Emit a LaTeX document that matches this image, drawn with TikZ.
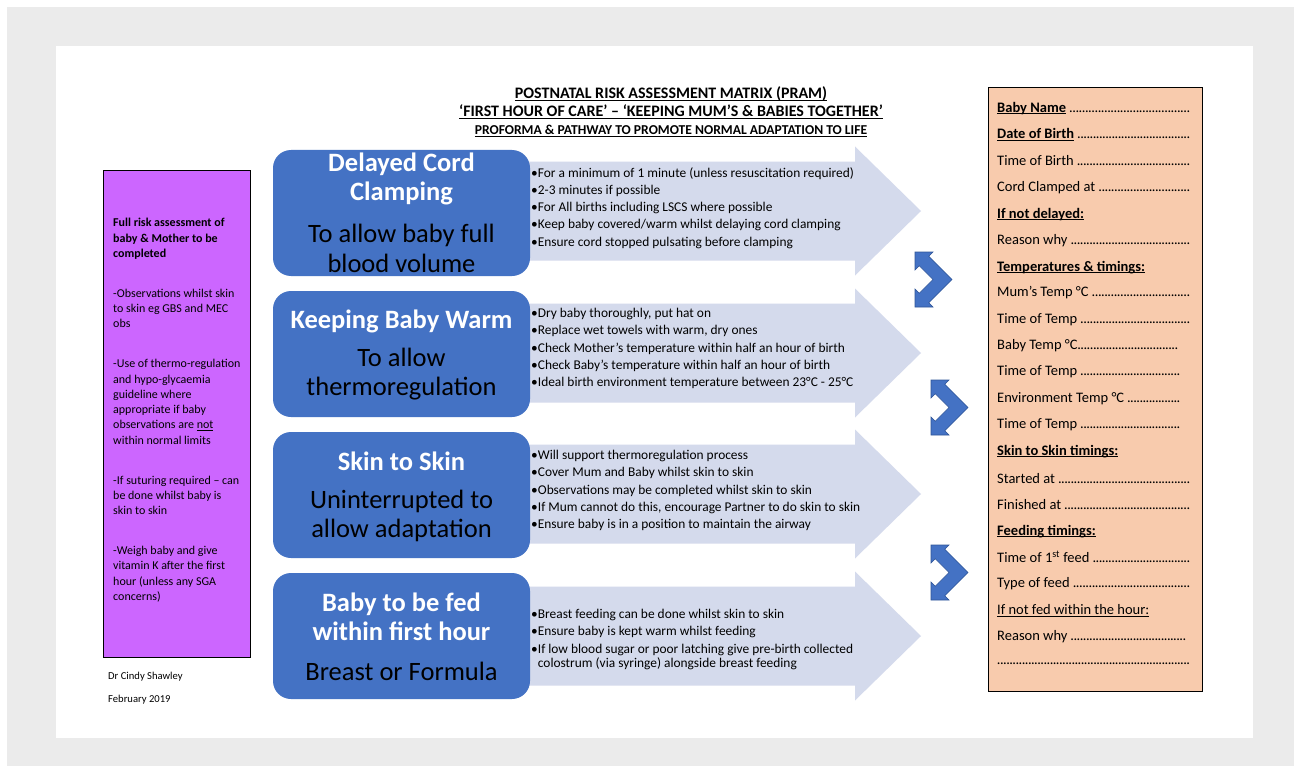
\documentclass[tikz,border=0pt]{standalone}
\usepackage{fontspec}
\setmainfont{Carlito}
\usetikzlibrary{positioning}

\definecolor{pagegrey}{RGB}{235,235,235}
\definecolor{cardblue}{RGB}{68,114,196}
\definecolor{cardedge}{RGB}{47,85,151}
\definecolor{arrowlilac}{RGB}{212,218,236}
\definecolor{riskviolet}{RGB}{204,102,255}
\definecolor{formpeach}{RGB}{248,203,173}

\newsavebox{\ulbox}
\newcommand{\uln}[1]{\sbox{\ulbox}{#1}\rlap{\rule[-0.13em]{\wd\ulbox}{0.06em}}\usebox{\ulbox}}
\newcommand{\dotrun}{\xleaders\hbox to 3.1pt{\hss.\hss}\hfill}
\newcommand{\formfield}[2][193pt]{\hbox to #1{#2\dotrun}}

\tikzset{
  card/.style={fill=cardblue, rounded corners=18pt, minimum width=257, minimum height=126,
    anchor=north west, inner sep=0pt, outer sep=0pt},
  cardhead/.style={text=white, font=\fontsize{26.5}{29}\selectfont\bfseries, align=center, inner sep=0pt},
  cardtext/.style={text=black, font=\fontsize{26.5}{29.5}\selectfont, align=center, inner sep=0pt},
  bullets/.style={anchor=north west, inner sep=0pt, align=left, font=\fontsize{13.4}{17.25}\selectfont},
  flowarrow/.style={fill=arrowlilac},
  turnarrow/.style={fill=cardblue, draw=cardedge, line width=0.6pt, line join=miter},
  sidebox/.style={draw=black, line width=0.8pt, anchor=north west, inner sep=0pt, outer sep=0pt},
  formrow/.style={anchor=west, inner sep=0pt, yshift=-1.5pt, font=\fontsize{14.5}{16}\selectfont},
  titleline/.style={inner sep=0pt, font=\fontsize{16}{18}\selectfont\bfseries},
}

\begin{document}
\begin{tikzpicture}[x=1pt,y=-1pt]
\useasboundingbox (0,0) rectangle (1301,773);
% page
\fill[white] (0,0) rectangle (1301,773);
\fill[pagegrey] (7,7) rectangle (1294,766);
\fill[white] (56,46) rectangle (1253,738);

% heading
\node[titleline] (title1) at (671,94) {\uln{POSTNATAL RISK ASSESSMENT MATRIX (PRAM)}};
\node[titleline] (title2) at (671,112) {\uln{‘FIRST HOUR OF CARE’ – ‘KEEPING MUM’S \& BABIES TOGETHER’}};
\node[titleline,font=\fontsize{13.6}{15}\selectfont\bfseries] (title3) at (671,131) {\uln{PROFORMA \& PATHWAY TO PROMOTE NORMAL ADAPTATION TO LIFE}};

% left column
\node[sidebox,fill=riskviolet,minimum width=147,minimum height=487] (risk) at (103,170) {};
\node[anchor=north west,inner sep=0pt,align=left,font=\fontsize{12}{15.3}\selectfont] (risknotes) at (113,218.3)
  {\textbf{Full risk assessment of}\\\textbf{baby \& Mother to be}\\\textbf{completed}\\[24.5pt]
   -Observations whilst skin\\to skin eg GBS and MEC\\obs\\[24.5pt]
   -Use of thermo-regulation\\and hypo-glycaemia\\guideline where\\appropriate if baby\\observations are \uln{not}\\within normal limits\\[24.5pt]
   -If suturing required – can\\be done whilst baby is\\skin to skin\\[24.5pt]
   -Weigh baby and give\\vitamin K after the first\\hour (unless any SGA\\concerns)};
\node[anchor=west,inner sep=0pt,font=\fontsize{10.6}{12}\selectfont] (author) at (108,677) {Dr Cindy Shawley};
\node[anchor=west,inner sep=0pt,font=\fontsize{10.6}{12}\selectfont] (date) at (108,700) {February 2019};

% arrows behind the cards
\foreach \c in {211,353,494,636}
  \fill[flowarrow] (525,\c-49.5) -- (855,\c-49.5) -- (855,\c-64.5) -- (921,\c) -- (855,\c+64.5) -- (855,\c+49.5) -- (525,\c+49.5) -- cycle;

% cards
\node[card] (cord) at (273,150) {};
\node[cardhead] (cordhead) at (401.5,178.5) {Delayed Cord\\Clamping};
\node[cardtext] (cordtext) at (401.5,248.5) {To allow baby full\\blood volume};

\node[card] (warm) at (273,291) {};
\node[cardhead] (warmhead) at (401.5,321) {Keeping Baby Warm};
\node[cardtext] (warmtext) at (401.5,374) {To allow\\thermoregulation};

\node[card] (skin) at (273,432) {};
\node[cardhead] (skinhead) at (401.5,461) {Skin to Skin};
\node[cardtext] (skintext) at (401.5,516) {Uninterrupted to\\allow adaptation};

\node[card] (feed) at (273,573) {};
\node[cardhead] (feedhead) at (401.5,616.5) {Baby to be fed\\within first hour};
\node[cardtext] (feedtext) at (401.5,671) {Breast or Formula};

% bullet lists
\node[bullets] (cordlist) at (531,167) {•For a minimum of 1 minute (unless resuscitation required)\\•2-3 minutes if possible\\•For All births including LSCS where possible\\•Keep baby covered/warm whilst delaying cord clamping\\•Ensure cord stopped pulsating before clamping};
\node[bullets] (warmlist) at (531,308) {•Dry baby thoroughly, put hat on\\•Replace wet towels with warm, dry ones\\•Check Mother's temperature within half an hour of birth\\•Check Baby's temperature within half an hour of birth\\•Ideal birth environment temperature between 23°C - 25°C};
\node[bullets] (skinlist) at (531,450) {•Will support thermoregulation process\\•Cover Mum and Baby whilst skin to skin\\•Observations may be completed whilst skin to skin\\•If Mum cannot do this, encourage Partner to do skin to skin\\•Ensure baby is in a position to maintain the airway};
\node[bullets] (feedlist) at (531,609) {•Breast feeding can be done whilst skin to skin\\•Ensure baby is kept warm whilst feeding\\•If low blood sugar or poor latching give pre-birth collected\\[-3pt]\phantom{•}colostrum (via syringe) alongside breast feeding};

% turn arrows
\foreach \sx/\sy in {915/252, 931/380, 931/545}
  \draw[turnarrow,shift={(\sx,\sy)}] (0,0) -- (18,0) -- (13.75,4.25) -- (37,27.5) -- (13.75,50.75) -- (18,55)
    -- (0,55) -- (0,37) -- (4.25,41.25) -- (18,27.5) -- (4.25,13.75) -- (0,18) -- cycle;

% record form
\node[sidebox,fill=formpeach,minimum width=214,minimum height=604] (form) at (988,87) {};
\node[formrow] (f1) at (997,107) {\formfield{\uln{\textbf{Baby Name}} }};
\node[formrow] (f2) at (997,133) {\formfield{\uln{\textbf{Date of Birth}} }};
\node[formrow] (f3) at (997,159) {\formfield{Time of Birth }};
\node[formrow] (f4) at (997,186) {\formfield{Cord Clamped at }};
\node[formrow] (f5) at (997,213) {\uln{\textbf{If not delayed:}}};
\node[formrow] (f6) at (997,239) {\formfield{Reason why }};
\node[formrow] (f7) at (997,266) {\uln{\textbf{Temperatures \& timings:}}};
\node[formrow] (f8) at (997,291) {\formfield{Mum’s Temp °C }};
\node[formrow] (f9) at (997,318) {\formfield{Time of Temp }};
\node[formrow] (f10) at (997,344) {\formfield[181pt]{Baby Temp °C}};
\node[formrow] (f11) at (997,370) {\formfield[183pt]{Time of Temp }};
\node[formrow] (f12) at (997,397) {\formfield[183pt]{Environment Temp °C }};
\node[formrow] (f13) at (997,423) {\formfield[183pt]{Time of Temp }};
\node[formrow] (f14) at (997,450) {\uln{\textbf{Skin to Skin timings:}}};
\node[formrow] (f15) at (997,477) {\formfield{Started at }};
\node[formrow] (f16) at (997,503) {\formfield{Finished at }};
\node[formrow] (f17) at (997,530) {\uln{\textbf{Feeding timings:}}};
\node[formrow] (f18) at (997,555) {\formfield{Time of 1\textsuperscript{st} feed }};
\node[formrow] (f19) at (997,582) {\formfield{Type of feed }};
\node[formrow] (f20) at (997,609) {\uln{If not fed within the hour:}};
\node[formrow] (f21) at (997,635) {\formfield[189pt]{Reason why }};
\node[formrow] (f22) at (997,662) {\formfield{}};
\end{tikzpicture}
\end{document}
